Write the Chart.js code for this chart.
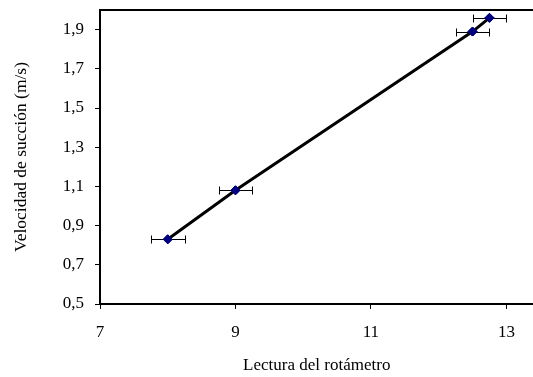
<!DOCTYPE html>
<html>
<head>
<meta charset="utf-8">
<script src="https://cdn.jsdelivr.net/npm/chart.js@4"></script>
<style>
  html, body { margin: 0; padding: 0; background: #fff; overflow: hidden; }
  #wrap { width: 539px; height: 377px; }
</style>
</head>
<body>
<div id="wrap"><canvas id="chart"></canvas></div>
<script>
// lectura del rotámetro vs velocidad de succión
const lectura = [8, 9, 12.5, 12.75];
const velocidad = [0.83, 1.08, 1.89, 1.96];
const errorX = [0.25, 0.25, 0.25, 0.25];
const xTicks = [7, 9, 11, 13];
const yTicks = [0.5, 0.7, 0.9, 1.1, 1.3, 1.5, 1.7, 1.9];

const serif = 'Liberation Serif, Times New Roman, serif';

// horizontal error bars + top frame line
const extras = {
  id: 'extras',
  afterDatasetsDraw(chart) {
    const ctx = chart.ctx;
    const xs = chart.scales.x, ys = chart.scales.y;
    const area = chart.chartArea;
    ctx.save();
    ctx.strokeStyle = '#000';
    ctx.lineWidth = 1;
    lectura.forEach((x, i) => {
      const y = Math.round(ys.getPixelForValue(velocidad[i])) + 0.5;
      const x0 = Math.round(xs.getPixelForValue(x - errorX[i])) + 0.5;
      const x1 = Math.round(xs.getPixelForValue(x + errorX[i])) + 0.5;
      ctx.beginPath();
      ctx.moveTo(x0, y); ctx.lineTo(x1, y);
      ctx.moveTo(x0, y - 4); ctx.lineTo(x0, y + 4);
      ctx.moveTo(x1, y - 4); ctx.lineTo(x1, y + 4);
      ctx.stroke();
    });
    ctx.restore();
    // redraw markers over bars
    chart.getDatasetMeta(0).data.forEach((p) => p.draw(ctx, area));
    ctx.save();
    ctx.strokeStyle = '#000';
    ctx.lineWidth = 2;
    ctx.beginPath();
    ctx.moveTo(area.left, area.top);
    ctx.lineTo(chart.width, area.top);
    ctx.stroke();
    ctx.restore();
  }
};

new Chart(document.getElementById('chart').getContext('2d'), {
  type: 'scatter',
  data: {
    datasets: [
      {
        data: lectura.map((x, i) => ({ x, y: velocidad[i] })),
        showLine: true,
        borderColor: '#000',
        borderWidth: 3,
        pointStyle: 'rectRot',
        pointRadius: 4.5,
        pointBackgroundColor: '#000080',
        pointBorderColor: '#000080',
        pointBorderWidth: 1,
      },
    ],
  },
  options: {
    responsive: true,
    maintainAspectRatio: false,
    animation: false,
    layout: { padding: { top: 10, right: 0, left: 0, bottom: 0 } },
    plugins: { legend: { display: false }, tooltip: { enabled: false } },
    scales: {
      x: {
        type: 'linear',
        min: 7,
        max: 13.4,
        afterBuildTicks: (s) => { s.ticks = xTicks.map((v) => ({ value: v })); },
        afterFit: (s) => { s.height = 73; },
        grid: { drawOnChartArea: false, drawTicks: true, tickLength: 5, color: '#000', tickWidth: 1 },
        border: { display: true, color: '#000', width: 2 },
        ticks: { color: '#000', padding: 13, font: { family: serif, size: 17 }, maxRotation: 0 },
        title: {
          display: true,
          text: 'Lectura del rotámetro',
          color: '#000',
          font: { family: serif, size: 17 },
          padding: { top: 0, bottom: 1 },
        },
      },
      y: {
        min: 0.5,
        max: 2.0,
        afterBuildTicks: (s) => { s.ticks = yTicks.map((v) => ({ value: v })); },
        afterFit: (s) => { s.width = 100; s.paddingTop = 0; s.paddingBottom = 0; },
        grid: { drawOnChartArea: false, drawTicks: true, tickLength: 5, color: '#000', tickWidth: 1 },
        border: { display: true, color: '#000', width: 2 },
        ticks: {
          color: '#000',
          padding: 11,
          font: { family: serif, size: 17 },
          callback: (v) => v.toFixed(1).replace('.', ','),
        },
        title: {
          display: true,
          text: 'Velocidad de succión (m/s)',
          color: '#000',
          font: { family: serif, size: 17.5 },
          padding: { top: 11, bottom: 0 },
        },
      },
    },
  },
  plugins: [extras],
});
</script>
</body>
</html>
